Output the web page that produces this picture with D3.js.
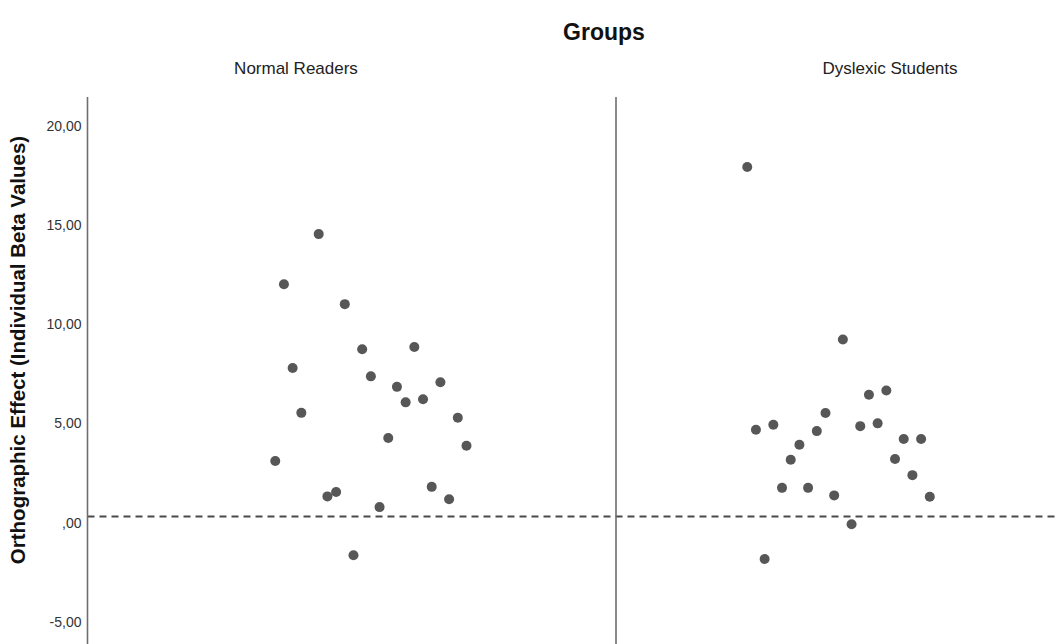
<!DOCTYPE html>
<meta charset="utf-8">
<style>
body { margin: 0; background: #fff; }
text { font-family: "Liberation Sans", Arial, sans-serif; }
.axis .domain { display: none; }
.axis line { display: none; }
</style>
<svg id="chart" width="1061" height="644"></svg>
<script src="https://cdn.jsdelivr.net/npm/d3@7"></script>
<script>

var groups = ["Normal Readers", "Dyslexic Students"];
var yTicks = [-5, 0, 5, 10, 15, 20];
var refValue = 0.3;

// case position inside each panel (one slot is empty in the first group)
var normalCase = [0, 1, 2, 3, 5, 6, 7, 8, 9, 10, 11, 12, 13, 14, 15, 16, 17, 18, 19, 20, 21, 22];
var normalBeta = [3.10, 12.01, 7.79, 5.53, 14.54, 1.32, 1.54, 11.01, -1.65, 8.74, 7.37,
                  0.78, 4.26, 6.84, 6.06, 8.85, 6.22, 1.80, 7.07, 1.18, 5.28, 3.87];

var dyslexicCase = [0, 1, 2, 3, 4, 5, 6, 7, 8, 9, 10, 11, 12, 13, 14, 15, 16, 17, 18, 19, 20, 21];
var dyslexicBeta = [17.92, 4.68, -1.84, 4.93, 1.75, 3.17, 3.92, 1.75, 4.61, 5.52, 1.37,
                    9.23, -0.08, 4.86, 6.44, 5.00, 6.66, 3.20, 4.21, 2.39, 4.21, 1.30];

var svg = d3.select("#chart"),
    margin = {top: 97, left: 87.5},
    panelWidth = 528.5,
    height = +svg.attr("height");

var y = d3.scaleLinear()
    .domain([-6.12, 21.45])
    .range([height, margin.top]);

// each panel has its own case scale; the second one runs off the right edge
var panels = [
  {name: groups[0], cases: normalCase, values: normalBeta, x0: margin.left, domain: [-21.6, 39.2], labelX: 296},
  {name: groups[1], cases: dyslexicCase, values: dyslexicBeta, x0: margin.left + panelWidth, domain: [-15.1, 45.7], labelX: 890}
];

// title
svg.append("text")
    .attr("x", 604)
    .attr("y", 40)
    .attr("text-anchor", "middle")
    .attr("font-size", 23)
    .attr("font-weight", "bold")
    .attr("fill", "#111")
    .text("Groups");

// y axis labels (SPSS style decimal comma)
svg.append("g")
    .attr("class", "axis")
    .attr("transform", "translate(" + (margin.left - 1) + ",0)")
    .call(d3.axisLeft(y).tickValues(yTicks).tickSize(0).tickPadding(5)
      .tickFormat(function(d) {
        if (d === 0) return ",00";
        return (d < 0 ? "-" : "") + Math.abs(d).toFixed(2).replace(".", ",");
      }))
    .selectAll("text")
      .attr("font-size", 14)
      .attr("font-family", "'Liberation Sans', Arial, sans-serif")
      .attr("fill", "#333");

svg.append("text")
    .attr("transform", "translate(25," + 350 + ") rotate(-90)")
    .attr("text-anchor", "middle")
    .attr("font-size", 20.5)
    .attr("font-weight", "bold")
    .attr("fill", "#111")
    .text("Orthographic Effect (Individual Beta Values)");

// reference line
svg.append("line")
    .attr("x1", margin.left)
    .attr("x2", 1058)
    .attr("y1", y(refValue))
    .attr("y2", y(refValue))
    .attr("stroke", "#4a4a4a")
    .attr("stroke-width", 2)
    .attr("stroke-dasharray", "7,5");

panels.forEach(function(p) {
  var x = d3.scaleLinear()
      .domain(p.domain)
      .range([p.x0, p.x0 + panelWidth]);

  svg.append("line")
      .attr("x1", p.x0).attr("x2", p.x0)
      .attr("y1", margin.top).attr("y2", height)
      .attr("stroke", "#6e6e6e")
      .attr("stroke-width", 1.6);

  svg.append("text")
      .attr("x", p.labelX)
      .attr("y", 74)
      .attr("text-anchor", "middle")
      .attr("font-size", 17)
      .attr("fill", "#222")
      .text(p.name);

  svg.append("g")
    .selectAll("circle")
    .data(p.values)
    .enter().append("circle")
      .attr("cx", function(d, i) { return x(p.cases[i]); })
      .attr("cy", function(d) { return y(d); })
      .attr("r", 5)
      .attr("fill", "#575757");
});

</script>
